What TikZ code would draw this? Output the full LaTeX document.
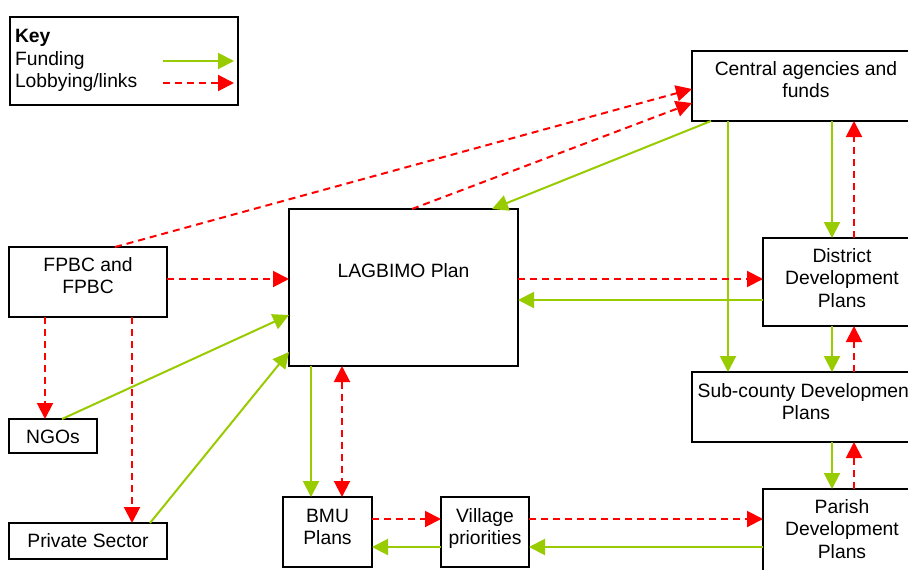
\documentclass[tikz,border=0pt]{standalone}
\usepackage{fontspec}
\setmainfont{Liberation Sans}
\usetikzlibrary{arrows.meta}

\definecolor{fundgreen}{RGB}{153,204,0}
\definecolor{lobbyred}{RGB}{255,0,0}

% box text: width, height, first-baseline drop, lines
\newcommand\boxtxt[4]{\parbox[c][#2][t]{#1}{\centering\rule{0pt}{#3}#4}}
\newcommand\diagfont{\fontsize{19.3}{22.3}\selectfont}

\tikzset{
  box/.style={draw=black, line width=1.2pt, rectangle, inner sep=0pt, outer sep=0pt, font=\diagfont},
  tip/.tip={Triangle[length=16pt,width=16pt]},
  fund/.style={draw=fundgreen, color=fundgreen, line width=2pt, -tip},
  lobby/.style={draw=lobbyred, color=lobbyred, line width=2pt,
    dash pattern=on 7pt off 5pt, -tip},
}

\begin{document}
\begin{tikzpicture}[x=1pt,y=-1pt]
\useasboundingbox (0,0) rectangle (908,570);
\fill[white] (0,0) rectangle (908,570);
\clip (0,0) rectangle (908,570);

% legend
\node[box] (key) at (124,61)
  {\parbox[c][88pt][t]{228pt}{\raggedright\leftskip=5pt\rule{0pt}{25.7pt}\textbf{Key}\\Funding\\Lobbying/links}};
\coordinate (kf1) at (163,61);
\coordinate (kf2) at (234,61);
\coordinate (kl1) at (163,83);
\coordinate (kl2) at (234,83);
\draw[fund] (kf1) -- (kf2);
\draw[lobby] (kl1) -- (kl2);

% planning bodies
\node[box] (cen) at (806,86)    {\boxtxt{228pt}{70pt}{24.5pt}{Central agencies and\\funds}};
\node[box] (dis) at (842,282)   {\boxtxt{158pt}{88pt}{24.5pt}{District\\Development\\Plans}};
\node[box] (sub) at (806,407)   {\boxtxt{228pt}{70pt}{25pt}{Sub-county Development\\Plans}};
\node[box] (par) at (842,533)   {\boxtxt{158pt}{88pt}{24.5pt}{Parish\\Development\\Plans}};
\node[box] (lag) at (403.5,287.5) {\boxtxt{229pt}{157pt}{68.3pt}{LAGBIMO Plan}};
\node[box] (fpbc) at (88,282)   {\boxtxt{158pt}{70pt}{24.3pt}{FPBC and\\FPBC}};
\node[box] (ngo) at (53,436)    {\boxtxt{88pt}{34pt}{24.3pt}{NGOs}};
\node[box] (pri) at (88,541)    {\boxtxt{158pt}{36pt}{24.7pt}{Private Sector}};
\node[box] (bmu) at (327.5,532) {\boxtxt{89pt}{70pt}{25.3pt}{BMU\\Plans}};
\node[box] (vil) at (485,532)   {\boxtxt{88pt}{70pt}{25.3pt}{Village\\priorities}};

% right-hand column
\draw[fund]  ([xshift=26pt]cen.south)  -- ([xshift=-10pt]dis.north);
\draw[lobby] ([xshift=12pt]dis.north)  -- ([xshift=48pt]cen.south);
\draw[fund]  ([xshift=-78pt]cen.south) -- ([xshift=-78pt]sub.north);
\draw[fund]  ([xshift=-10pt]dis.south) -- ([xshift=26pt]sub.north);
\draw[lobby] ([xshift=48pt]sub.north)  -- ([xshift=12pt]dis.south);
\draw[fund]  ([xshift=26pt]sub.south)  -- ([xshift=-10pt]par.north);
\draw[lobby] ([xshift=12pt]par.north)  -- ([xshift=48pt]sub.south);

% LAGBIMO links
\draw[lobby] ([yshift=8.5pt]lag.east)   -- ([yshift=3pt]dis.west);
\draw[fund]  ([yshift=-18pt]dis.west)   -- ([yshift=-12.5pt]lag.east);
\draw[fund]  ([xshift=-95pt]cen.south)  -- ([xshift=88.5pt]lag.north);
\draw[lobby] ([xshift=8.5pt]lag.north)  -- ([yshift=-17pt]cen.west);

% left-hand actors
\draw[lobby] ([xshift=27pt]fpbc.north)  -- ([yshift=-3pt]cen.west);
\draw[lobby] ([yshift=3pt]fpbc.east)    -- ([yshift=8.5pt]lag.west);
\draw[lobby] ([xshift=-43pt]fpbc.south) -- ([xshift=-8pt]ngo.north);
\draw[lobby] ([xshift=44pt]fpbc.south)  -- ([xshift=44pt]pri.north);
\draw[fund]  ([xshift=9pt]ngo.north)    -- ([yshift=-27.5pt]lag.west);
\draw[fund]  ([xshift=62pt]pri.north)   -- ([yshift=-64.5pt]lag.west);

% bottom row
\draw[fund]  ([xshift=-92.5pt]lag.south) -- ([xshift=-16.5pt]bmu.north);
\draw[lobby, tip-tip] ([xshift=-61.5pt]lag.south) -- ([xshift=14.5pt]bmu.north);
\draw[lobby] ([yshift=13pt]bmu.east)  -- ([yshift=13pt]vil.west);
\draw[fund]  ([yshift=-15pt]vil.west) -- ([yshift=-15pt]bmu.east);
\draw[lobby] ([yshift=13pt]vil.east)  -- ([yshift=14pt]par.west);
\draw[fund]  ([yshift=-14pt]par.west) -- ([yshift=-15pt]vil.east);
\end{tikzpicture}
\end{document}
